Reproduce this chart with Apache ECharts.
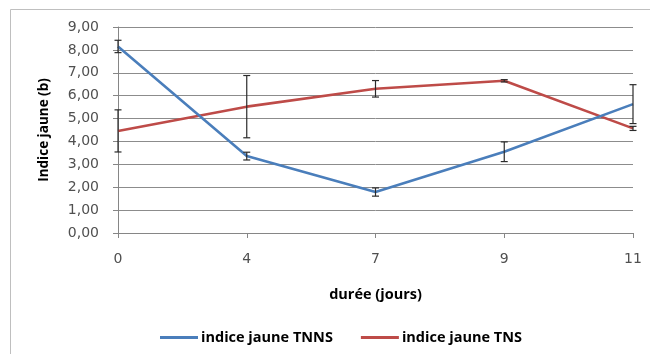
<!DOCTYPE html>
<html>
<head>
<meta charset="utf-8">
<script src="https://cdn.jsdelivr.net/npm/echarts@6/dist/echarts.min.js"></script>
<style>html,body{margin:0;padding:0;background:#fff}#c{width:650px;height:354px}</style>
</head>
<body>
<div id="c"></div>
<script>
var days = ['0', '4', '7', '9', '11'];
var tnns = [8.15, 3.36, 1.79, 3.55, 5.63];
var tnnsErr = [0.27, 0.17, 0.18, 0.43, 0.85];
var tns = [4.46, 5.52, 6.30, 6.65, 4.57];
var tnsErr = [0.92, 1.36, 0.36, 0.05, 0.09];
var yTicks = ['0,00','1,00','2,00','3,00','4,00','5,00','6,00','7,00','8,00','9,00'];

function errData(vals, errs) {
  return vals.map(function (v, i) { return [i, v - errs[i], v + errs[i]]; });
}
function renderErr(params, api) {
  var x = api.value(0);
  var lo = api.coord([x, api.value(1)]);
  var hi = api.coord([x, api.value(2)]);
  var w = 3.5;
  var st = { stroke: '#2b2b2b', lineWidth: 1.2 };
  return {
    type: 'group',
    children: [
      { type: 'line', shape: { x1: lo[0], y1: lo[1], x2: hi[0], y2: hi[1] }, style: st },
      { type: 'line', shape: { x1: lo[0] - w, y1: lo[1], x2: lo[0] + w, y2: lo[1] }, style: st },
      { type: 'line', shape: { x1: hi[0] - w, y1: hi[1], x2: hi[0] + w, y2: hi[1] }, style: st }
    ]
  };
}

var chart = echarts.init(document.getElementById('c'));
chart.setOption({
  animation: false,
  grid: { left: 118, right: 17, top: 27, bottom: 121 },
  graphic: [
    { type: 'rect', shape: { x: 10.5, y: 9.5, width: 700, height: 400 }, style: { fill: 'none', stroke: '#bfbfbf', lineWidth: 1 }, z: -10 }
  ],
  legend: {
    left: 155, top: 325,
    itemWidth: 38, itemHeight: 3, itemGap: 28,
    icon: 'rect',
    textStyle: { fontFamily: '"Open Sans", sans-serif', fontWeight: 'bold', fontSize: 14.5, color: '#000', padding: [0, 0, 0, -2] },
    data: ['indice jaune TNNS', 'indice jaune TNS']
  },
  xAxis: {
    type: 'category',
    data: days,
    boundaryGap: false,
    name: 'durée (jours)',
    nameLocation: 'middle',
    nameGap: 54,
    nameTextStyle: { fontFamily: '"Open Sans", sans-serif', fontWeight: 'bold', fontSize: 14.5, color: '#000' },
    axisLine: { lineStyle: { color: '#868686', width: 1 } },
    axisTick: { show: true, length: 5, inside: false, lineStyle: { color: '#868686' } },
    axisLabel: { color: '#505050', fontFamily: '"DejaVu Sans", sans-serif', fontSize: 14, margin: 19 },
    splitLine: { show: false }
  },
  yAxis: {
    type: 'value',
    min: 0, max: 9, interval: 1,
    name: 'Indice jaune (b)',
    nameLocation: 'middle',
    nameGap: 67,
    nameRotate: 90,
    nameTextStyle: { fontFamily: '"Open Sans", sans-serif', fontWeight: 'bold', fontSize: 13.5, color: '#000' },
    axisLine: { show: true, lineStyle: { color: '#868686', width: 1 } },
    axisTick: { show: true, length: 5, lineStyle: { color: '#868686' } },
    axisLabel: {
      color: '#505050', fontFamily: '"DejaVu Sans", sans-serif', fontSize: 14, margin: 19,
      formatter: function (v) { return yTicks[Math.round(v)]; }
    },
    splitLine: { show: true, lineStyle: { color: '#8c8c8c', width: 1 } }
  },
  series: [
    { name: 'indice jaune TNNS', type: 'line', data: tnns, symbol: 'none', lineStyle: { color: '#4a7ebb', width: 2.6 }, itemStyle: { color: '#4a7ebb' }, z: 3 },
    { name: 'indice jaune TNS', type: 'line', data: tns, symbol: 'none', lineStyle: { color: '#be4b48', width: 2.6 }, itemStyle: { color: '#be4b48' }, z: 2 },
    { type: 'custom', renderItem: renderErr, data: errData(tnns, tnnsErr), z: 5, silent: true },
    { type: 'custom', renderItem: renderErr, data: errData(tns, tnsErr), z: 5, silent: true }
  ]
});
</script>
</body>
</html>
